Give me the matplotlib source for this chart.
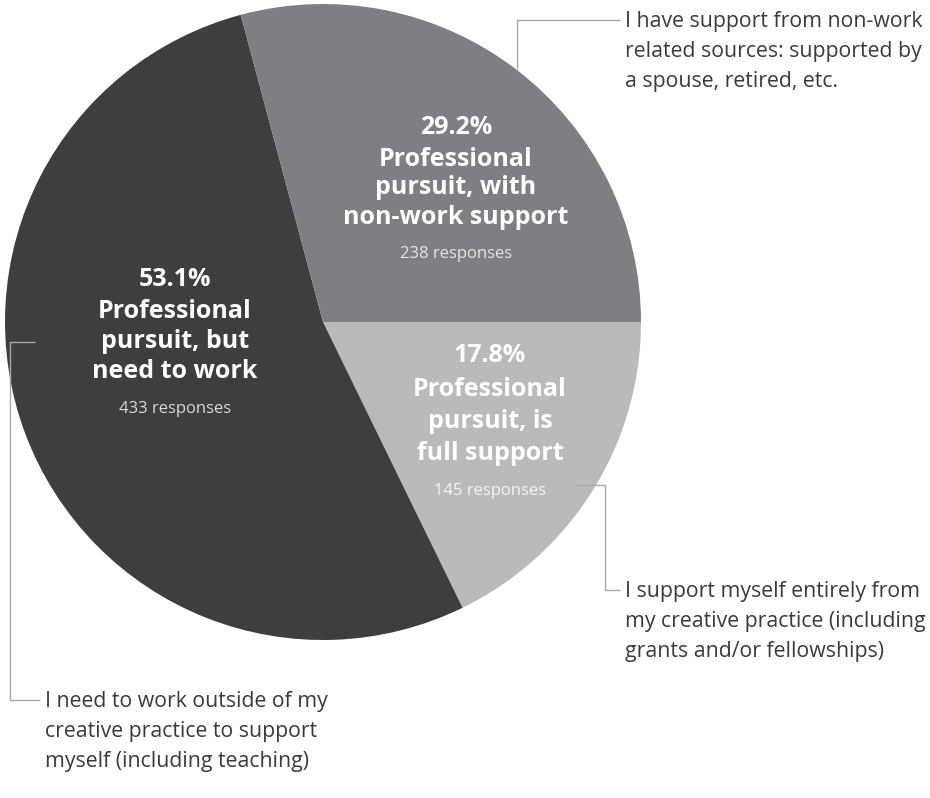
import matplotlib.pyplot as plt

# survey answers: responses per group
groups = ["Professional\npursuit, is\nfull support",
          "Professional\npursuit, but\nneed to work",
          "Professional\npursuit, with\nnon-work support"]
responses = [145, 433, 238]
notes = ["I support myself entirely from\nmy creative practice (including\ngrants and/or fellowships)",
         "I need to work outside of my\ncreative practice to support\nmyself (including teaching)",
         "I have support from non-work\nrelated sources: supported by\na spouse, retired, etc."]

colors = ["#b9babc", "#3e3e3e", "#7e7f82"]
resp_colors = ["#f4f4f4", "#d8d8d8", "#e6e6e6"]

W, H = 930, 798
plt.rcParams['font.family'] = ['Open Sans', 'DejaVu Sans']

fig = plt.figure(figsize=(W / 100, H / 100), dpi=100)
ax = fig.add_axes([0, 0, 1, 1])

def Y(y):
    # pixel rows counted from the top
    return H - y

cx, cy, r = 323, 322, 318
ax.pie(responses, colors=colors, startangle=0, counterclock=False,
       center=(cx, Y(cy)), radius=r, frame=True,
       wedgeprops=dict(linewidth=0))
ax.set_xlim(0, W)
ax.set_ylim(0, H)
ax.set_aspect('equal')
ax.axis('off')

total = sum(responses)
# label blocks: x centre, y of the percentage line, line pitch
label_pos = [(490, 355, 32), (175, 279, 30), (456, 127, 29)]
for g, n, (lx, ly, step), rc in zip(groups, responses, label_pos, resp_colors):
    pct = 100 * n / total
    ax.text(lx, Y(ly), f"{pct:.1f}%", ha='center', va='center',
            fontsize=18, fontweight='bold', color='white')
    lines = g.split("\n")
    for i, line in enumerate(lines):
        ax.text(lx, Y(ly + step + 3 + step * i), line, ha='center',
                va='center', fontsize=18, fontweight='bold', color='white')
    ax.text(lx, Y(ly + step + 3 + step * (len(lines) - 1) + 37),
            f"{n} responses", ha='center', va='center', fontsize=12, color=rc)

# leader lines from the slices out to the notes
line_kw = dict(color='#a8a8a8', lw=1.0, solid_capstyle='butt')
ax.plot([575, 605, 605, 620], [Y(485), Y(485), Y(590), Y(590)], **line_kw)
ax.plot([35, 10, 10, 40], [Y(342), Y(342), Y(700), Y(700)], **line_kw)
ax.plot([517, 517, 620], [Y(70), Y(20), Y(20)], **line_kw)

note_pos = [(625, 592), (45, 702), (625, 22)]
for txt, (tx, ty) in zip(notes, note_pos):
    for i, line in enumerate(txt.split("\n")):
        ax.text(tx, Y(ty + 30 * i), line, ha='left', va='center',
                fontsize=15.3, color='#3a3a3a')

fig.savefig("out.png", dpi=100)
